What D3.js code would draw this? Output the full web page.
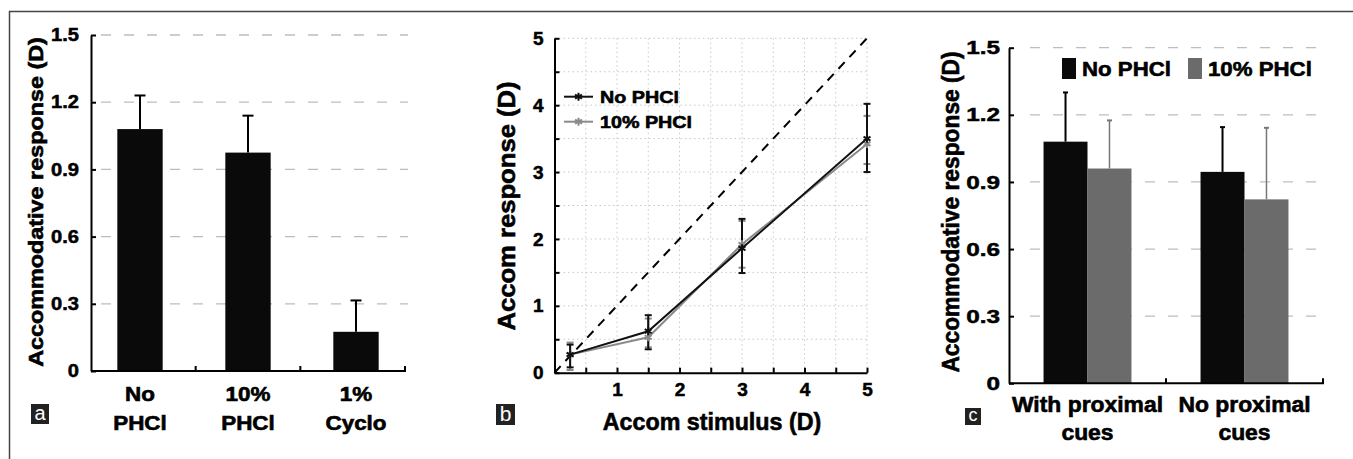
<!DOCTYPE html>
<html><head><meta charset="utf-8">
<script src="https://cdn.jsdelivr.net/npm/d3@7"></script>
<style>html,body{margin:0;padding:0;background:#fff;}svg{display:block;}</style>
</head><body>
<svg id="chart" width="1353" height="459"></svg>
<script>
// ---------- DATA ----------
// Panel a
const aCategories = ["No\nPHCl", "10%\nPHCl", "1%\nCyclo"];
const aValues = [1.08, 0.975, 0.175];
const aErrors = [0.15, 0.165, 0.14];
const aYTicks = [0, 0.3, 0.6, 0.9, 1.2, 1.5];

// Panel b
const bStimulus = [0.25, 1.5, 3, 5];
const bNoPhcl = [0.27, 0.62, 1.86, 3.50];
const bNoPhclLow = [0.08, 0.35, 1.49, 3.00];
const bNoPhclHigh = [0.42, 0.86, 2.30, 4.02];
const b10Phcl = [0.27, 0.53, 1.92, 3.42];
const b10PhclLow = [0.04, 0.38, 1.57, 3.12];
const b10PhclHigh = [0.45, 0.81, 2.27, 3.84];
const bTicks = [0, 1, 2, 3, 4, 5];
const bMinorTicks = [0.5, 1, 1.5, 2, 2.5, 3, 3.5, 4, 4.5, 5];
const bSeriesNames = ["No PHCl", "10% PHCl"];

// Panel c
const cCategories = ["With proximal\ncues", "No proximal\ncues"];
const cSeries = ["No PHCl", "10% PHCl"];
const cNoPhcl = [1.08, 0.945];
const cNoPhclErr = [0.22, 0.20];
const c10Phcl = [0.96, 0.822];
const c10PhclErr = [0.215, 0.32];
const cYTicks = [0, 0.3, 0.6, 0.9, 1.2, 1.5];

// ---------- HELPERS ----------
const svg = d3.select("#chart");
const FONT = '"Liberation Sans", Arial, Helvetica, sans-serif';
function txt(g, str, x, y, o) {
  const size = o.size || 18, sx = o.sx || 1, rot = o.rot || 0;
  const bold = (o.weight || "bold") === "bold";
  const t = g.append("text")
    .attr("transform", `translate(${x},${y}) rotate(${rot}) scale(${sx},1)`)
    .attr("text-anchor", o.anchor || "middle")
    .attr("fill", o.fill || "#000")
    .style("font-family", FONT)
    .style("font-weight", o.weight || "bold")
    .style("font-size", size + "px")
    .text(str);
  if (bold) t.attr("stroke", o.fill || "#000").attr("stroke-width", 0.6);
  return t;
}
function styleAxis(g, size, sx, pad, orient) {
  g.select(".domain").attr("stroke", "#000").attr("stroke-width", 2);
  g.selectAll(".tick line").attr("stroke", "#000").attr("stroke-width", 2);
  const t = g.selectAll(".tick text")
    .style("font-family", FONT).style("font-weight", "bold").style("font-size", size + "px")
    .attr("fill", "#000").attr("stroke", "#000").attr("stroke-width", 0.5);
  if (orient === "left") t.attr("x", -pad / sx).attr("transform", `scale(${sx},1)`);
  else t.attr("y", pad).attr("dy", "0.71em").attr("transform", `scale(${sx},1)`);
}
function letterBox(x, y, w, h, ch, size) {
  svg.append("rect").attr("x", x).attr("y", y).attr("width", w).attr("height", h).attr("fill", "#222");
  txt(svg, ch, x + w / 2, y + h - 4, {size: size, weight: "normal", fill: "#fff"});
}

// Frame
svg.append("path").attr("d", "M9.5,459 V11.5 H1353").attr("fill", "none").attr("stroke", "#444").attr("stroke-width", 1.5);

// ---------- PANEL A ----------
(function () {
  const g = svg.append("g");
  const y = d3.scaleLinear().domain([0, 1.5]).range([371, 35]);
  const x = d3.scaleBand().domain(aCategories).range([86, 410]).paddingInner(0.58).paddingOuter(0.29);
  const x0 = 91, x1 = 405;
  g.selectAll(".grid").data(aYTicks.filter(d => d > 0)).join("line")
    .attr("x1", 101).attr("x2", 408).attr("y1", d => y(d)).attr("y2", d => y(d))
    .attr("stroke", "#bdbdbd").attr("stroke-width", 1.3).attr("stroke-dasharray", "10,13");
  g.selectAll(".bar").data(aCategories).join("rect")
    .attr("x", d => x(d)).attr("width", x.bandwidth())
    .attr("y", (d, i) => y(aValues[i])).attr("height", (d, i) => y(0) - y(aValues[i]))
    .attr("fill", "#0a0a0a");
  aCategories.forEach((c, i) => {
    const cx = x(c) + x.bandwidth() / 2;
    g.append("line").attr("x1", cx).attr("x2", cx).attr("y1", y(aValues[i])).attr("y2", y(aValues[i] + aErrors[i])).attr("stroke", "#000").attr("stroke-width", 2);
    g.append("line").attr("x1", cx - 5.5).attr("x2", cx + 5.5).attr("y1", y(aValues[i] + aErrors[i])).attr("y2", y(aValues[i] + aErrors[i])).attr("stroke", "#000").attr("stroke-width", 2);
  });
  const ya = g.append("g").attr("transform", `translate(${x0},0)`)
    .call(d3.axisLeft(y).tickValues(aYTicks).tickSizeInner(-5).tickSizeOuter(0).tickPadding(12)
      .tickFormat(d => d === 0 ? "0" : d.toFixed(1)));
  styleAxis(ya, 17.5, 1.15, 12, "left");
  const step = (x1 - x0) / aCategories.length;
  g.append("line").attr("x1", x0).attr("x2", x1 + 1).attr("y1", y(0)).attr("y2", y(0)).attr("stroke", "#000").attr("stroke-width", 2);
  aCategories.forEach((c, i) => {
    const tx = x0 + step * (i + 1);
    g.append("line").attr("x1", tx).attr("x2", tx).attr("y1", y(0)).attr("y2", y(0) - 5).attr("stroke", "#000").attr("stroke-width", 2);
  });
  aCategories.forEach(c => {
    const lines = c.split("\n");
    const cx = x(c) + x.bandwidth() / 2;
    txt(g, lines[0], cx, 400.5, {size: 19.5, sx: 1.15});
    txt(g, lines[1], cx, 430, {size: 19.5, sx: 1.15});
  });
  txt(g, "Accommodative response (D)", 42.5, 202, {size: 20.5, sx: 1.14, rot: -90});
  letterBox(31, 404, 18, 20, "a", 20);
})();

// ---------- PANEL B ----------
(function () {
  const g = svg.append("g");
  const x = d3.scaleLinear().domain([0, 5]).range([554.5, 867]);
  const y = d3.scaleLinear().domain([0, 5]).range([372.7, 38.3]);
  g.selectAll(".gx").data(bMinorTicks).join("line")
    .attr("x1", d => x(d)).attr("x2", d => x(d)).attr("y1", y(0)).attr("y2", y(5))
    .attr("stroke", "#c8c8c8").attr("stroke-width", 1).attr("stroke-dasharray", "1.5,3");
  g.selectAll(".gy").data(bMinorTicks).join("line")
    .attr("x1", x(0)).attr("x2", x(5)).attr("y1", d => y(d)).attr("y2", d => y(d))
    .attr("stroke", "#c8c8c8").attr("stroke-width", 1).attr("stroke-dasharray", "1.5,3");
  g.append("line").attr("x1", x(0)).attr("y1", y(0)).attr("x2", x(5)).attr("y2", y(5))
    .attr("stroke", "#000").attr("stroke-width", 2).attr("stroke-dasharray", "9,7");
  const xa = g.append("g").attr("transform", `translate(0,${y(0)})`)
    .call(d3.axisBottom(x).tickValues([0].concat(bMinorTicks)).tickSizeInner(-5).tickSizeOuter(0).tickPadding(12)
      .tickFormat(d => Number.isInteger(d) && d > 0 ? String(d) : ""));
  styleAxis(xa, 19, 1.0, 10, "bottom");
  const ya = g.append("g").attr("transform", `translate(${x(0)},0)`)
    .call(d3.axisLeft(y).tickValues([0].concat(bMinorTicks)).tickSizeInner(-5).tickSizeOuter(0).tickPadding(12)
      .tickFormat(d => Number.isInteger(d) ? String(d) : ""));
  styleAxis(ya, 19, 1.0, 11, "left");
  const series = [
    {name: bSeriesNames[0], v: bNoPhcl, lo: bNoPhclLow, hi: bNoPhclHigh, color: "#111", w: 2},
    {name: bSeriesNames[1], v: b10Phcl, lo: b10PhclLow, hi: b10PhclHigh, color: "#8a8a8a", w: 2}
  ];
  const line = d3.line().x(d => x(d[0])).y(d => y(d[1]));
  const star = d3.symbol().type(d3.symbolAsterisk).size(45);
  [series[1], series[0]].forEach(s => {
    s.v.forEach((v, i) => {
      const cx = x(bStimulus[i]);
      g.append("line").attr("x1", cx).attr("x2", cx).attr("y1", y(s.lo[i])).attr("y2", y(s.hi[i])).attr("stroke", s.color).attr("stroke-width", s.w);
      [s.lo[i], s.hi[i]].forEach(e => g.append("line").attr("x1", cx - 3.5).attr("x2", cx + 3.5).attr("y1", y(e)).attr("y2", y(e)).attr("stroke", s.color).attr("stroke-width", 2));
    });
  });
  [series[1], series[0]].forEach(s => {
    g.append("path").datum(bStimulus.map((d, i) => [d, s.v[i]])).attr("d", line)
      .attr("fill", "none").attr("stroke", s.color).attr("stroke-width", s.w);
    s.v.forEach((v, i) => g.append("path").attr("d", star).attr("transform", `translate(${x(bStimulus[i])},${y(v)})`)
      .attr("stroke", s.color).attr("stroke-width", 2).attr("fill", "none"));
  });
  series.forEach((s, i) => {
    const ly = 96.7 + i * 25;
    g.append("line").attr("x1", 564).attr("x2", 593).attr("y1", ly).attr("y2", ly).attr("stroke", s.color).attr("stroke-width", 2);
    g.append("path").attr("d", star).attr("transform", `translate(578.5,${ly})`).attr("stroke", s.color).attr("stroke-width", 2).attr("fill", "none");
    txt(g, s.name, 600, ly + 6.6, {size: 17, sx: 1.16, anchor: "start"});
  });
  txt(g, "Accom response (D)", 515, 206, {size: 23.5, sx: 1.09, rot: -90});
  txt(g, "Accom stimulus (D)", 712, 430, {size: 24, sx: 0.97});
  letterBox(496, 404, 19, 21, "b", 21);
})();

// ---------- PANEL C ----------
(function () {
  const g = svg.append("g");
  const y = d3.scaleLinear().domain([0, 1.5]).range([383.3, 47.7]);
  const x = d3.scaleBand().domain(cCategories).range([1009, 1323]).paddingInner(0.44).paddingOuter(0.22);
  const xs = d3.scaleBand().domain(cSeries).range([0, x.bandwidth()]);
  const colors = {"No PHCl": "#0a0a0a", "10% PHCl": "#6b6b6b"};
  const errColors = {"No PHCl": "#000", "10% PHCl": "#777"};
  const vals = {"No PHCl": cNoPhcl, "10% PHCl": c10Phcl};
  const errs = {"No PHCl": cNoPhclErr, "10% PHCl": c10PhclErr};
  g.selectAll(".grid").data(cYTicks.filter(d => d > 0)).join("line")
    .attr("x1", 1030).attr("x2", 1324).attr("y1", d => y(d)).attr("y2", d => y(d))
    .attr("stroke", "#bdbdbd").attr("stroke-width", 1.3).attr("stroke-dasharray", "10,13");
  cCategories.forEach((c, ci) => {
    cSeries.forEach(s => {
      const v = vals[s][ci], e = errs[s][ci];
      const bx = x(c) + xs(s);
      g.append("rect").attr("x", bx).attr("width", xs.bandwidth()).attr("y", y(v)).attr("height", y(0) - y(v)).attr("fill", colors[s]);
      const cx = bx + xs.bandwidth() / 2;
      const sw = s === "No PHCl" ? 2 : 1.5;
      g.append("line").attr("x1", cx).attr("x2", cx).attr("y1", y(v)).attr("y2", y(v + e)).attr("stroke", errColors[s]).attr("stroke-width", sw);
      g.append("line").attr("x1", cx - 2.5).attr("x2", cx + 2.5).attr("y1", y(v + e)).attr("y2", y(v + e)).attr("stroke", errColors[s]).attr("stroke-width", 2);
    });
  });
  const ya = g.append("g").attr("transform", `translate(1009,0)`)
    .call(d3.axisLeft(y).tickValues(cYTicks).tickSizeInner(-5).tickSizeOuter(0).tickPadding(9)
      .tickFormat(d => d === 0 ? "0" : d.toFixed(1)));
  styleAxis(ya, 19, 1.28, 9, "left");
  g.append("line").attr("x1", 1009).attr("x2", 1324).attr("y1", y(0)).attr("y2", y(0)).attr("stroke", "#000").attr("stroke-width", 2);
  cCategories.forEach((c, i) => {
    const tx = 1009 + x.step() * (i + 1);
    g.append("line").attr("x1", tx).attr("x2", tx).attr("y1", y(0)).attr("y2", y(0) - 5).attr("stroke", "#000").attr("stroke-width", 2);
    const lines = c.split("\n");
    const cx = x(c) + x.bandwidth() / 2;
    txt(g, lines[0], cx, 412, {size: 22, sx: 1.04});
    txt(g, lines[1], cx, 439.5, {size: 22, sx: 1.04});
  });
  const lx = [1062, 1188];
  cSeries.forEach((s, i) => {
    g.append("rect").attr("x", lx[i]).attr("y", 58).attr("width", 14).attr("height", 21).attr("fill", colors[s]);
    txt(g, s, lx[i] + 20, 75.5, {size: 21, sx: 1.06, anchor: "start"});
  });
  txt(g, "Accommodative response (D)", 959, 212, {size: 23, sx: 0.99, rot: -90});
  letterBox(965, 408, 16, 17, "c", 18);
})();
</script>
</body></html>
